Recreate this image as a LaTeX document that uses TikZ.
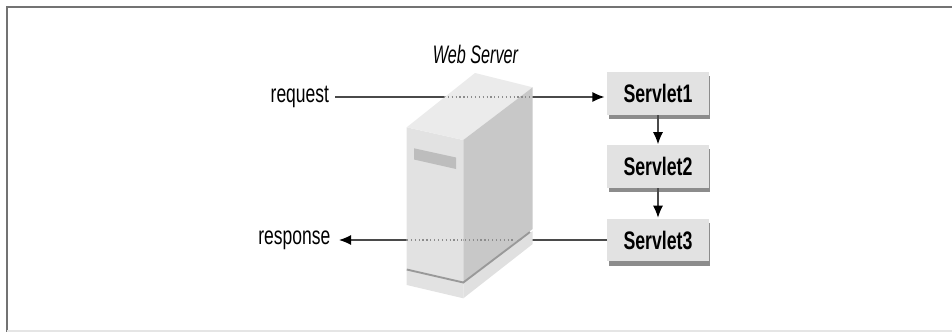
\documentclass[tikz,border=0pt]{standalone}
\usepackage{fontspec}
\usetikzlibrary{arrows.meta,shadows}
\newfontfamily\labelfont[FakeStretch=0.69]{Liberation Sans}
\newfontfamily\titlefont[FakeStretch=0.64]{Liberation Sans Italic}
\newfontfamily\boxfont[FakeStretch=0.70]{Liberation Sans Bold}
\definecolor{frontgray}{HTML}{E2E2E2}
\definecolor{topgray}{HTML}{EBEBEB}
\definecolor{sidegray}{HTML}{C8C8C8}
\definecolor{slotgray}{HTML}{BDBDBD}
\definecolor{linegray}{HTML}{4A4A4A}
\begin{document}
\begin{tikzpicture}[x=0.75pt, y=-0.75pt, >={Latex[length=9pt,width=7.5pt,color=black]},
    label node/.style={font=\labelfont\fontsize{19}{19}\selectfont, text=black, inner sep=0pt},
    title node/.style={font=\titlefont\fontsize{19}{19}\selectfont, text=black, inner sep=0pt},
    servlet node/.style={fill=frontgray, minimum width=76pt, minimum height=32pt, inner sep=0pt,
        font=\boxfont\fontsize{19}{19}\selectfont, text=black,
        general shadow={fill=black!45, shadow xshift=1pt, shadow yshift=-3.2pt}},
    wire/.style={draw=linegray, line width=0.9pt},
    hidden wire/.style={draw=black!45, line width=0.9pt, dotted}]

    \useasboundingbox (0,0) rectangle (952,332);

    % frame
    \draw[black!55, line width=2pt] (952,7) -- (7,7) -- (7,332);
    \draw[black!10, line width=1pt] (7,331) -- (952,331);

    \node[title node] at (475.5,54) (webserver) {Web Server};
    \node[label node, anchor=east, outer sep=4.5pt] at (335,97) (request) {request};
    \node[label node, anchor=east, outer sep=6.5pt] at (339,240) (response) {response};
    \node[servlet node] at (658,93.5) (servlet1) {Servlet1};
    \node[servlet node] at (658,166.5) (servlet2) {Servlet2};
    \node[servlet node] at (658,240) (servlet3) {Servlet3};

    \path (request) edge[->, wire, shorten >=2pt] (request -| servlet1.west);
    \path (servlet3) edge[->, wire] (response);
    \path (servlet1) edge[->, wire, shorten >=0.5pt] (servlet2);
    \path (servlet2) edge[->, wire, shorten >=0.5pt] (servlet3);

    % server
    \fill[frontgray] (406.7,127.3) -- (463.3,140) -- (463.3,282) -- (406.7,269) -- cycle;
    \fill[topgray] (406.7,127.3) -- (475,73) -- (532.7,87.3) -- (463.3,140) -- cycle;
    \fill[sidegray] (463.3,140) -- (532.7,87.3) -- (532.7,229) -- (463.3,282) -- cycle;
    \fill[frontgray] (406.7,270) -- (463.3,283) -- (463.3,298.3) -- (406.7,285) -- cycle;
    \fill[black!12] (463.3,283) -- (532.7,231) -- (532.7,244) -- (463.3,298.3) -- cycle;
    \draw[black!40, line width=1.4pt] (406.7,269.5) -- (463.3,282.5) -- (530,232);
    \fill[slotgray] (414,148.3) -- (456,157.5) -- (456,169) -- (414,159.5) -- cycle;

    % hidden parts of the wires
    \coordinate (reqa) at (444,97);
    \coordinate (reqb) at (532,97);
    \coordinate (respa) at (407,240);
    \coordinate (respb) at (513,240);
    \path (reqa) edge[hidden wire] (reqb);
    \path (respa) edge[hidden wire] (respb);
\end{tikzpicture}
\end{document}
